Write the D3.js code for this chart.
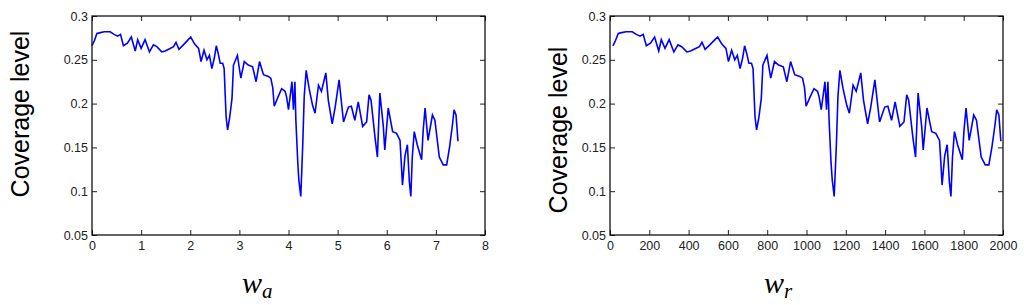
<!DOCTYPE html>
<html>
<head>
<meta charset="utf-8">
<script src="https://cdn.jsdelivr.net/npm/d3@7"></script>
<style>
  body { margin: 0; background: #fff; }
  svg text { font-family: "Liberation Sans", Arial, sans-serif; }
</style>
</head>
<body>
<div id="chart"></div>
<script>
// coverage level sampled along w_a (left panel) and w_r (right panel)
var wa = [0, 0.05, 0.10, 0.17, 0.25, 0.37, 0.45, 0.52, 0.58, 0.64, 0.72, 0.80, 0.88, 0.93,
  1.00, 1.08, 1.17, 1.25, 1.32, 1.42, 1.49, 1.56, 1.66, 1.71, 1.77, 1.86, 1.96, 2.01,
  2.09, 2.17, 2.22, 2.28, 2.34, 2.39, 2.44, 2.49, 2.53, 2.57, 2.61, 2.66, 2.69, 2.71,
  2.73, 2.76, 2.80, 2.85, 2.88, 2.96, 3.03, 3.10, 3.18, 3.27, 3.34, 3.41, 3.49, 3.59,
  3.64, 3.68, 3.71, 3.79, 3.86, 3.93, 3.96, 4.00, 4.07, 4.10, 4.13, 4.15, 4.19, 4.21,
  4.25, 4.29, 4.32, 4.36, 4.42, 4.49, 4.54, 4.61, 4.67, 4.76, 4.81, 4.89, 4.95, 5.03,
  5.12, 5.22, 5.28, 5.35, 5.42, 5.51, 5.59, 5.64, 5.68, 5.76, 5.81, 5.86, 5.93, 5.96,
  6.03, 6.12, 6.20, 6.27, 6.30, 6.32, 6.37, 6.42, 6.46, 6.49, 6.52, 6.56, 6.62, 6.71,
  6.74, 6.78, 6.84, 6.93, 6.98, 7.07, 7.15, 7.22, 7.28, 7.34, 7.37, 7.41, 7.45];

var wr = [15, 28, 42, 60, 81, 113, 134, 153, 169, 185, 206, 227, 248, 261,
  280, 301, 325, 346, 365, 391, 410, 428, 455, 468, 484, 508, 534, 548,
  569, 590, 603, 619, 635, 648, 662, 675, 685, 696, 707, 720, 728, 733,
  738, 746, 757, 770, 778, 799, 818, 837, 858, 882, 900, 919, 940, 966,
  980, 990, 998, 1019, 1038, 1056, 1064, 1075, 1094, 1102, 1109, 1115, 1125, 1131,
  1141, 1152, 1160, 1170, 1186, 1205, 1218, 1237, 1253, 1276, 1290, 1311, 1327, 1348,
  1372, 1398, 1414, 1433, 1451, 1475, 1496, 1510, 1520, 1541, 1555, 1568, 1586, 1594,
  1613, 1637, 1658, 1677, 1685, 1690, 1703, 1716, 1727, 1735, 1743, 1753, 1769, 1793,
  1801, 1812, 1828, 1851, 1865, 1889, 1910, 1928, 1944, 1960, 1968, 1979, 1989];

var coverage = [0.266, 0.272, 0.280, 0.281, 0.282, 0.282, 0.279, 0.277, 0.279, 0.266, 0.269, 0.276, 0.260, 0.273,
  0.263, 0.273, 0.259, 0.267, 0.265, 0.259, 0.260, 0.262, 0.265, 0.270, 0.262, 0.267, 0.273, 0.276,
  0.268, 0.263, 0.248, 0.261, 0.250, 0.255, 0.240, 0.252, 0.266, 0.257, 0.246, 0.246, 0.240, 0.212,
  0.185, 0.170, 0.183, 0.206, 0.244, 0.255, 0.229, 0.248, 0.244, 0.242, 0.225, 0.248, 0.233, 0.231,
  0.229, 0.218, 0.197, 0.208, 0.217, 0.214, 0.208, 0.193, 0.225, 0.193, 0.225, 0.181, 0.132, 0.113,
  0.094, 0.153, 0.208, 0.238, 0.217, 0.198, 0.189, 0.221, 0.214, 0.235, 0.204, 0.177, 0.196, 0.227,
  0.179, 0.196, 0.197, 0.181, 0.202, 0.174, 0.179, 0.210, 0.204, 0.162, 0.139, 0.212, 0.174, 0.147,
  0.195, 0.168, 0.166, 0.158, 0.128, 0.107, 0.140, 0.153, 0.111, 0.094, 0.139, 0.168, 0.153, 0.136,
  0.168, 0.195, 0.158, 0.187, 0.181, 0.139, 0.130, 0.130, 0.151, 0.177, 0.193, 0.187, 0.157];

var yTicks = [0.05, 0.1, 0.15, 0.2, 0.25, 0.3];
var waTicks = [0, 1, 2, 3, 4, 5, 6, 7, 8];
var wrTicks = [0, 200, 400, 600, 800, 1000, 1200, 1400, 1600, 1800, 2000];

var W = 1024, H = 305;
var svg = d3.select("#chart").append("svg")
    .attr("width", W)
    .attr("height", H);

function drawPanel(p) {
  var x = d3.scaleLinear().domain(p.xDomain).range([p.left, p.right]);
  var y = d3.scaleLinear().domain([0.05, 0.3]).range([235, 16]);
  var g = svg.append("g");

  // bottom axis with labels, ticks pointing inwards (matlab style)
  g.append("g")
    .attr("transform", "translate(0,235)")
    .call(d3.axisBottom(x).tickValues(p.xTicks).tickSizeInner(-5).tickSizeOuter(0).tickPadding(6)
      .tickFormat(d3.format("d")))
  g.append("g")
    .attr("transform", "translate(0,16)")
    .call(d3.axisTop(x).tickValues(p.xTicks).tickSizeInner(-5).tickSizeOuter(0).tickFormat(""))

  g.append("g")
    .attr("transform", "translate(" + p.left + ",0)")
    .call(d3.axisLeft(y).tickValues(yTicks).tickSizeInner(-5).tickSizeOuter(0).tickPadding(4)
      .tickFormat(function(d) { return String(+d.toFixed(2)); }))
  g.append("g")
    .attr("transform", "translate(" + p.right + ",0)")
    .call(d3.axisRight(y).tickValues(yTicks).tickSizeInner(-5).tickSizeOuter(0).tickFormat(""))

  g.selectAll(".domain").remove();
  g.selectAll(".tick line").attr("stroke", "#222").attr("stroke-width", 1);
  g.selectAll(".tick text")
    .attr("font-size", "12.5px")
    .attr("font-family", "Liberation Sans, Arial, sans-serif")
    .attr("fill", "#222");

  // the line
  var pts = d3.zip(p.xs, coverage);
  g.append("path")
    .datum(pts)
    .attr("fill", "none")
    .attr("stroke", "#0000ff")
    .attr("stroke-width", 1.6)
    .attr("d", d3.line()
      .x(function(d) { return x(d[0]); })
      .y(function(d) { return y(d[1]); }));

  // box
  g.append("rect")
    .attr("x", p.left)
    .attr("y", 16)
    .attr("width", p.right - p.left)
    .attr("height", 219)
    .attr("fill", "none")
    .attr("stroke", "#111")
    .attr("stroke-width", 1.3);

  // y label
  g.append("text")
    .attr("transform", "translate(" + p.yLabelX + "," + p.yLabelY + ") rotate(-90)")
    .attr("text-anchor", "middle")
    .attr("font-size", "25px")
    .attr("fill", "#000")
    .text("Coverage level");

  // x label, math italic with subscript
  var xl = g.append("text")
    .attr("x", p.xLabelX)
    .attr("y", 293)
    .attr("font-style", "italic")
    .attr("font-size", "30px")
    .attr("fill", "#000");
  xl.append("tspan").text("w").style("font-family", "Liberation Serif, serif");
  xl.append("tspan")
    .attr("dy", 5)
    .attr("font-size", "21px")
    .style("font-family", "Liberation Serif, serif")
    .text(p.sub);
}

drawPanel({ left: 92, right: 485, xDomain: [0, 8], xTicks: waTicks, xs: wa,
  yLabelX: 29, yLabelY: 114, xLabelX: 242, sub: "a" });
drawPanel({ left: 610, right: 1003, xDomain: [0, 2000], xTicks: wrTicks, xs: wr,
  yLabelX: 567, yLabelY: 130, xLabelX: 764, sub: "r" });
</script>
</body>
</html>
